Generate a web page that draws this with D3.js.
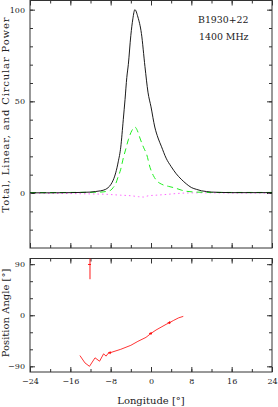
<!DOCTYPE html>
<html>
<head>
<meta charset="utf-8">
<script src="https://cdn.jsdelivr.net/npm/d3@7"></script>
<style>
  body { margin: 0; background: #fff; }
  text { font-family: "DejaVu Serif", serif; fill: #222; }
</style>
</head>
<body>
<svg id="chart" width="278" height="407"></svg>
<script>
// total intensity
const iLon = [-24,-20,-16,-14,-12,-11,-10,-9,-8,-7.5,-7,-6.5,-6,-5.5,-5.15,-4.8,-4.5,-4,-3.6,-3.2,-2.6,-1.9,-1.2,-0.6,0,0.75,1.4,2.05,3,4,5,6,7,8,9,10,11,12,14,16,20,24];
const iVal = [0.1,0.1,0.2,0.3,0.5,0.8,1.2,2,4.5,7,11,17,25,40,51,63,70,86,95,100,96,87,69,55,47,36,30,25.5,19,14.4,10.5,7.5,5,3,2,1.2,0.8,0.5,0.3,0.2,0.2,0.2];
// linear polarisation
const lLon = [-24,-16,-10,-9,-8,-7.5,-7,-6.6,-6,-5.5,-5,-4.5,-3.8,-3.2,-2.7,-2.2,-1.5,-0.85,-0.2,0.47,1.2,2.1,3.5,4.8,6,7.1,9,12,16,24];
const lVal = [0.2,0.3,0.5,0.8,1.5,3,5,8.2,13,19,24,29,34,36,34,30,25,21,14,9.5,6.5,4.8,3.6,2.7,1.6,0.9,0.5,0.3,0.3,0.3];
// circular polarisation
const vLon = [-24,-20,-16,-12,-9,-6,-4,-2.5,-1.5,-0.5,1,3,5,7,10,16,24];
const vVal = [0,-0.2,-0.3,-0.5,-0.7,-1.2,-1.5,-2.0,-2.2,-1.5,-1.2,-0.8,-0.3,0,0.1,0,0];
// position angle sweep
const paLon = [-14.1,-13.1,-12.2,-11.1,-10.2,-9.4,-8.9,-8.5,-8.1,-6,-4,-2.6,-1,0,1,2,3,3.7,4.5,5.5,6.4];
const paVal = [-71,-84,-90,-75,-81,-68,-72,-67,-66,-60,-53,-46,-39,-32,-26,-21,-16,-13,-9,-4.5,-2];
const paErr = [0,0,0,0,0,0,0,0,2.5,0,0,0,0,2.5,0,0,0,2.5,0,0,0];
// isolated wrapped point
const pa2Lon = [-12.1];
const pa2Val = [89.5];
const pa2Err = [26];

const xTicks = [-24,-16,-8,0,8,16,24];
const xMinor = d3.range(-24, 25, 4);
const topTicks = [0,50,100];
const topMinor = d3.range(-30, 106, 10);
const botTicks = [-90,0,90];
const botMinor = d3.range(-90, 91, 30);

const svg = d3.select("#chart");
const x = d3.scaleLinear().domain([-24, 24]).range([30, 272]);
const yT = d3.scaleLinear().domain([-30, 105]).range([248, 0.5]);
const yB = d3.scaleLinear().domain([-100, 100]).range([372, 258.5]);

const axisCol = "#333";

function frame(y) {
  const [y0, y1] = y.range();
  const g = svg.append("g");
  // major/minor ticks on four sides, all pointing inward
  const axes = [
    [d3.axisBottom(x).tickValues(xTicks).tickSize(-5), `translate(0,${y0})`],
    [d3.axisBottom(x).tickValues(xMinor).tickSize(-3), `translate(0,${y0})`],
    [d3.axisTop(x).tickValues(xTicks).tickSize(-5), `translate(0,${y1})`],
    [d3.axisTop(x).tickValues(xMinor).tickSize(-3), `translate(0,${y1})`],
  ];
  axes.forEach(([ax, tr]) => {
    g.append("g").attr("transform", tr).call(ax.tickFormat(""))
      .call(s => s.select(".domain").remove());
  });
  g.selectAll("line").attr("stroke", axisCol);
  g.append("rect")
    .attr("x", 30).attr("y", y1)
    .attr("width", 242).attr("height", y0 - y1)
    .attr("fill", "none").attr("stroke", axisCol).attr("stroke-width", 1);
  return g;
}

function yAxes(y, major, minor) {
  const g = svg.append("g");
  g.append("g").attr("transform", "translate(30,0)")
    .call(d3.axisLeft(y).tickValues(major).tickSize(-5).tickPadding(5))
    .call(s => s.select(".domain").remove());
  g.append("g").attr("transform", "translate(30,0)")
    .call(d3.axisLeft(y).tickValues(minor).tickSize(-3).tickFormat(""))
    .call(s => s.select(".domain").remove());
  g.append("g").attr("transform", "translate(272,0)")
    .call(d3.axisRight(y).tickValues(major).tickSize(-5).tickFormat(""))
    .call(s => s.select(".domain").remove());
  g.append("g").attr("transform", "translate(272,0)")
    .call(d3.axisRight(y).tickValues(minor).tickSize(-3).tickFormat(""))
    .call(s => s.select(".domain").remove());
  g.selectAll("line").attr("stroke", axisCol);
  g.selectAll("text").attr("font-size", 8).attr("font-family", "DejaVu Serif").attr("fill", "#222");
}

frame(yT);
yAxes(yT, topTicks, topMinor.filter(v => v >= -25 && v <= 104));
frame(yB);
yAxes(yB, botTicks, botMinor);

// x tick labels under the bottom panel
svg.append("g").attr("transform", "translate(0,372)")
  .call(d3.axisBottom(x).tickValues(xTicks).tickSize(0).tickPadding(6))
  .call(s => s.select(".domain").remove())
  .call(s => s.selectAll("text").attr("font-size", 8).attr("font-family", "DejaVu Serif").attr("fill", "#222"));

// clip paths
const defs = svg.append("defs");
defs.append("clipPath").attr("id", "clipT").append("rect")
  .attr("x", 30).attr("y", 0.5).attr("width", 242).attr("height", 247.5);
defs.append("clipPath").attr("id", "clipB").append("rect")
  .attr("x", 30).attr("y", 258.5).attr("width", 242).attr("height", 113.5);

const gTop = svg.append("g").attr("clip-path", "url(#clipT)");
const lineT = d3.line().x(d => x(d[0])).y(d => yT(d[1])).curve(d3.curveMonotoneX);

gTop.append("path").datum(vLon.map((v, i) => [v, vVal[i]]))
  .attr("d", lineT).attr("fill", "none")
  .attr("stroke", "#ff66ff").attr("stroke-width", 1).attr("stroke-dasharray", "1.5,3");
gTop.append("path").datum(lLon.map((v, i) => [v, lVal[i]]))
  .attr("d", lineT).attr("fill", "none")
  .attr("stroke", "#22ee22").attr("stroke-width", 1).attr("stroke-dasharray", "6,4");
gTop.append("path").datum(iLon.map((v, i) => [v, iVal[i]]))
  .attr("d", lineT).attr("fill", "none")
  .attr("stroke", "#000").attr("stroke-width", 0.9);

const gBot = svg.append("g").attr("clip-path", "url(#clipB)");
const lineB = d3.line().x(d => x(d[0])).y(d => yB(d[1]));
gBot.append("path").datum(paLon.map((v, i) => [v, paVal[i]]))
  .attr("d", lineB).attr("fill", "none").attr("stroke", "#f00").attr("stroke-width", 0.8);

const errs = paLon.map((v, i) => [v, paVal[i], paErr[i]]).filter(d => d[2] > 0)
  .concat(pa2Lon.map((v, i) => [v, pa2Val[i], pa2Err[i]]));
gBot.selectAll("line.err").data(errs).join("line").attr("class", "err")
  .attr("x1", d => x(d[0])).attr("x2", d => x(d[0]))
  .attr("y1", d => yB(d[1] - d[2])).attr("y2", d => yB(d[1] + d[2]))
  .attr("stroke", "#f00").attr("stroke-width", 0.9);
gBot.selectAll("line.pt").data(errs).join("line").attr("class", "pt")
  .attr("x1", d => x(d[0]) - 2).attr("x2", d => x(d[0]) + 1)
  .attr("y1", d => yB(d[1])).attr("y2", d => yB(d[1]))
  .attr("stroke", "#f00").attr("stroke-width", 0.9);

// labels
svg.append("text").attr("transform", "translate(9,115) rotate(-90)")
  .attr("text-anchor", "middle").attr("font-size", 10)
  .attr("textLength", 195).attr("lengthAdjust", "spacing")
  .text("Total, Linear, and Circular Power");
svg.append("text").attr("transform", "translate(9,313) rotate(-90)")
  .attr("text-anchor", "middle").attr("font-size", 10)
  .text("Position Angle [°]");
svg.append("text").attr("x", 151).attr("y", 404)
  .attr("text-anchor", "middle").attr("font-size", 10)
  .text("Longitude [°]");
svg.append("text").attr("x", 198).attr("y", 23).attr("font-size", 9.4).text("B1930+22");
svg.append("text").attr("x", 199).attr("y", 39.5).attr("font-size", 9.4).text("1400 MHz");
</script>
</body>
</html>
